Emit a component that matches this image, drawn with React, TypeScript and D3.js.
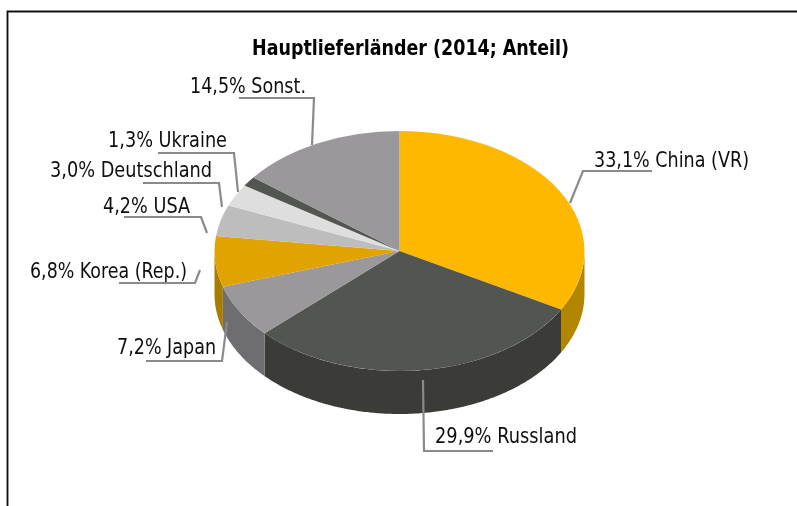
import React from "react";
import * as d3 from "d3";

const categories = ["China (VR)", "Russland", "Japan", "Korea (Rep.)", "USA", "Deutschland", "Ukraine", "Sonst."];
const shares = [33.1, 29.9, 7.2, 6.8, 4.2, 3.0, 1.3, 14.5];
const shareLabels = ["33,1%", "29,9%", "7,2%", "6,8%", "4,2%", "3,0%", "1,3%", "14,5%"];
const topColors = ["#ffb800", "#535551", "#9a989b", "#e0a300", "#bdbdbd", "#dedede", "#535551", "#9a989b"];
const wallColors = ["#b38600", "#3a3b37", "#6e6d70", "#a87c00", "#8e8e8e", "#a6a6a6", "#3a3b37", "#6e6d70"];
const title = "Hauptlieferländer (2014; Anteil)";

const labelX = [594, 435, 117, 30, 103, 50, 108, 190];
const labelW = [155, 142, 99, 157, 87, 162, 119, 116];
const labelY = [167, 443, 354, 278, 213, 177, 147, 93];
const leaders = [
  [[570, 203], [583, 171], [652, 171]],
  [[423, 380], [424, 451], [493, 451]],
  [[227, 322], [222, 361], [146, 361]],
  [[200, 270], [195, 283], [119, 283]],
  [[207, 233], [201, 217], [124, 217]],
  [[222, 207], [219, 183], [143, 183]],
  [[238, 192], [234, 153], [158, 153]],
  [[312, 145], [314, 98], [239, 98]],
];

const W = 797, H = 506, CX = 399.5, CY = 251, RX = 185, RY = 120, DEPTH = 43;

export default function App() {
  const pie = d3.pie<number>().sort(null).value((d) => d);
  const arcs = pie(shares);
  const unitArc = d3.arc<d3.PieArcDatum<number>>().innerRadius(0).outerRadius(1);
  const px = (a: number) => CX + RX * Math.sin(a);
  const py = (a: number) => CY - RY * Math.cos(a);
  const wall = d3
    .area<number>()
    .x((a) => px(a))
    .y0((a) => py(a))
    .y1((a) => py(a) + DEPTH);
  const line = d3.line();
  const walls = arcs.map((arc) => {
    const a0 = Math.max(arc.startAngle, Math.PI / 2);
    const a1 = Math.min(arc.endAngle, (3 * Math.PI) / 2);
    return a1 > a0 ? wall(d3.range(a0, a1, 0.01).concat([a1])) : null;
  });
  const font = "'DejaVu Sans', sans-serif";
  return (
    <svg
      width={W}
      height={H}
      viewBox={`0 0 ${W} ${H}`}
      style={{ position: "absolute", left: 0, top: 0, background: "#fff" }}
    >
      <defs>
        <filter id="soft" x="0" y="0" width={W} height={H} filterUnits="userSpaceOnUse">
          <feGaussianBlur stdDeviation="0.6" />
        </filter>
      </defs>
      <g filter="url(#soft)">
        <path d={`M7.5,${H} V11.5 H${W}`} fill="none" stroke="#111" strokeWidth={1.8} />
        {walls.map((d, i) => d && <path key={i} d={d} fill={wallColors[i]} />)}
        {arcs.map((arc, i) => (
          <path
            key={i}
            d={unitArc(arc) || ""}
            fill={topColors[i]}
            transform={`translate(${CX},${CY}) scale(${RX},${RY})`}
          />
        ))}
        {leaders.map((pts, i) => (
          <path key={i} d={line(pts as [number, number][]) || ""} fill="none" stroke="#8a8a8a" strokeWidth={2.2} />
        ))}
        <text
          x={252}
          y={54.5}
          textLength={317}
          lengthAdjust="spacingAndGlyphs"
          fontFamily={font}
          fontSize={20.5}
          fontWeight="bold"
          fill="#000"
        >
          {title}
        </text>
        {categories.map((c, i) => (
          <text
            key={c}
            x={labelX[i]}
            y={labelY[i]}
            textLength={labelW[i]}
            lengthAdjust="spacingAndGlyphs"
            fontFamily={font}
            fontSize={20.5}
            fill="#111"
          >
            {`${shareLabels[i]} ${c}`}
          </text>
        ))}
      </g>
    </svg>
  );
}
